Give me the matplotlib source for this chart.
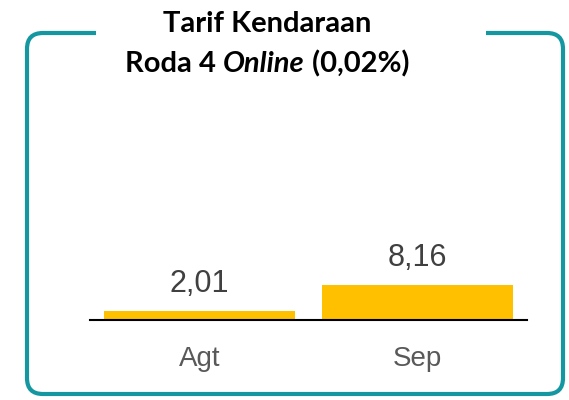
import matplotlib
matplotlib.use("Agg")
import matplotlib.pyplot as plt
from matplotlib.patches import FancyBboxPatch, Rectangle

months = ["Agt", "Sep"]
values = [2.01, 8.16]
value_labels = ["2,01", "8,16"]

W, H = 569, 400
fig = plt.figure(figsize=(W / 100, H / 100), dpi=100)

def fx(px):
    return px / W

def fy(py):
    return 1 - py / H

teal = "#1497A1"
box = FancyBboxPatch((fx(27), fy(394)), fx(563) - fx(27), fy(33) - fy(394),
                     boxstyle="round,pad=0,rounding_size=0.028",
                     transform=fig.transFigure, fill=False, edgecolor=teal,
                     linewidth=3, mutation_aspect=W / H)
fig.patches.append(box)
gap = Rectangle((fx(96), fy(40)), fx(486) - fx(96), fy(25) - fy(40),
                transform=fig.transFigure, facecolor="white", edgecolor="none")
fig.patches.append(gap)

# axes: x 90..527 px, y 150..320 px
ax = fig.add_axes([fx(90), fy(320), fx(527) - fx(90), fy(150) - fy(320)])
x = range(len(months))
ax.bar(x, values, width=0.872, color="#FFC000", zorder=2)
ax.set_xlim(-0.5, 1.5)
ax.set_ylim(0, 40)
for s in ["top", "left", "right"]:
    ax.spines[s].set_visible(False)
ax.spines["bottom"].set_linewidth(1.5)
ax.spines["bottom"].set_zorder(3)
ax.set_yticks([])
ax.set_xticks(list(x))
ax.set_xticklabels(months, fontsize=20, color="#595959", family="Liberation Sans")
ax.tick_params(axis="x", length=0, pad=19)
for i, v in enumerate(values):
    ax.annotate(value_labels[i], (i, v), xytext=(0, 14), textcoords="offset points",
                ha="center", va="baseline", fontsize=22, color="#404040",
                family="Liberation Sans")

# title
tfont = "Lato"
fig.text(fx(267), fy(32), "Tarif Kendaraan", ha="center", va="baseline",
         fontsize=21, fontweight="bold", family=tfont)
parts = [("Roda 4 ", "normal"), ("Online", "italic"), (" (0,02%)", "normal")]
renderer = fig.canvas.get_renderer()
texts = []
for s, st in parts:
    t = fig.text(0, fy(72), s, ha="left", va="baseline", fontsize=21,
                 fontweight="bold", style=st, family=tfont)
    texts.append(t)
widths = [t.get_window_extent(renderer).width for t in texts]
total = sum(widths)
start = 267 - total / 2
for t, w in zip(texts, widths):
    t.set_x(fx(start))
    start += w

fig.savefig("out.png", dpi=100)
